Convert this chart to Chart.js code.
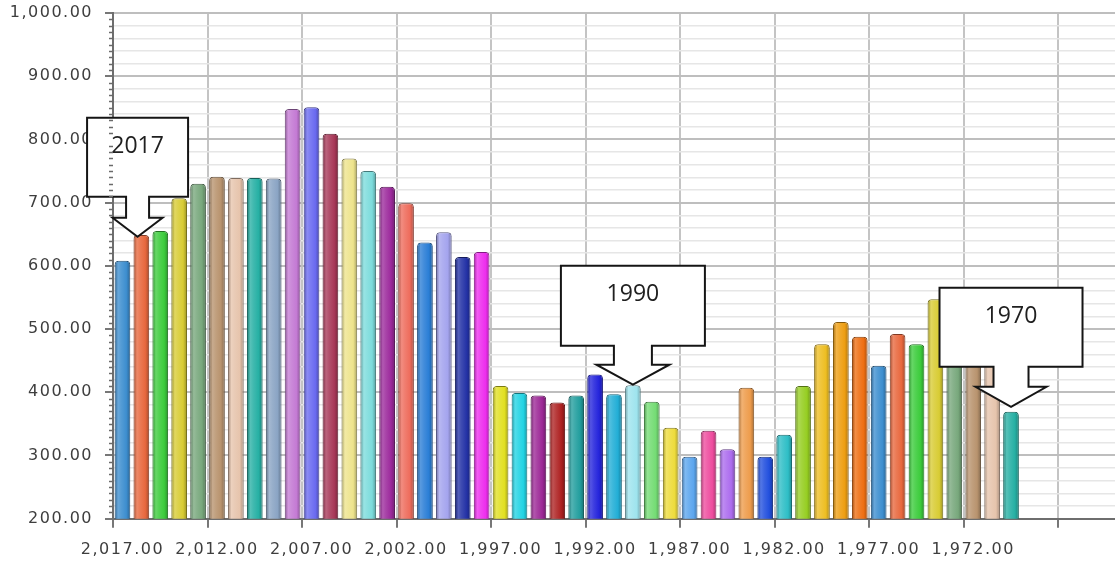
<!DOCTYPE html>
<html>
<head>
<meta charset="utf-8">
<title>Annual values 1970–2017</title>
<style>
  html, body { margin: 0; padding: 0; background: #ffffff; }
  #wrap { width: 1115px; height: 572px; position: relative; overflow: hidden; }
</style>
<script src="https://cdn.jsdelivr.net/npm/chart.js@4.4.1/dist/chart.umd.min.js"></script>
</head>
<body>
<div id="wrap"><canvas id="chart" width="1115" height="572"></canvas></div>
<script>
// ---- data -------------------------------------------------------------
const years = [
  2017, 2016, 2015, 2014, 2013, 2012, 2011, 2010, 2009, 2008,
  2007, 2006, 2005, 2004, 2003, 2002, 2001, 2000, 1999, 1998,
  1997, 1996, 1995, 1994, 1993, 1992, 1991, 1990, 1989, 1988,
  1987, 1986, 1985, 1984, 1983, 1982, 1981, 1980, 1979, 1978,
  1977, 1976, 1975, 1974, 1973, 1972, 1971, 1970
];
const values = [
  608, 649, 655, 707, 730, 741, 739, 739, 738, 848,
  851, 809, 770, 750, 725, 699, 637, 653, 614, 622,
  410, 399, 395, 384, 395, 428, 397, 411, 385, 344,
  298, 339, 310, 407, 298, 333, 410, 476, 511, 488,
  442, 492, 476, 547, 505, 470, 445, 369
];
// slots along the year axis (the axis runs on past the last bar)
const axisYears = [
  2017, 2016, 2015, 2014, 2013, 2012, 2011, 2010, 2009, 2008,
  2007, 2006, 2005, 2004, 2003, 2002, 2001, 2000, 1999, 1998,
  1997, 1996, 1995, 1994, 1993, 1992, 1991, 1990, 1989, 1988,
  1987, 1986, 1985, 1984, 1983, 1982, 1981, 1980, 1979, 1978,
  1977, 1976, 1975, 1974, 1973, 1972, 1971, 1970, 1969, 1968,
  1967, 1966, 1965
];
const gridYears = [2017, 2012, 2007, 2002, 1997, 1992, 1987, 1982, 1977, 1972, 1967];
const labeledYears = [2017, 2012, 2007, 2002, 1997, 1992, 1987, 1982, 1977, 1972];
// callouts: text, anchor year (fractional = between bars) and anchor value
const calloutTexts = ['2017', '1990', '1970'];
const calloutYears = [2016.2, 1990, 1970];
const calloutValues = [646, 412, 377];

// ---- styles -----------------------------------------------------------
const palette = [
  '#3d8ecf', '#e8683e', '#3ccc3c', '#d8cc34', '#78a87c', '#b8936e', '#e6c4ac', '#26b0a4',
  '#8aa4c4', '#c47ad4', '#6a6af0', '#a83858', '#eee48c', '#7cdcdc', '#9c2a9c', '#ee6c5c',
  '#2a7ed6', '#a4a4ee', '#2432a6', '#ee2eee', '#e2e022', '#22d4e4', '#9c2896', '#ae2222',
  '#229e9e', '#2424dc', '#22aed6', '#9ee4ee', '#74dc74', '#eedc3c', '#5ca6ee', '#ee4c9e',
  '#ac6cee', '#ee9c4c', '#2250de', '#2ebec6', '#96ce22', '#eebe22', '#ee9e12', '#ee6e12'
];
const calloutShapes = [
  { w: 101, h: 79, shaftHalf: 11.5, shaftLen: 21, headHalf: 25, headLen: 19 },
  { w: 144, h: 80, shaftHalf: 19, shaftLen: 19, headHalf: 36.5, headLen: 20 },
  { w: 143, h: 79, shaftHalf: 17.5, shaftLen: 20, headHalf: 35.5, headLen: 20 }
];

function hexToRgb(hex) {
  const n = parseInt(hex.slice(1), 16);
  return [(n >> 16) & 255, (n >> 8) & 255, n & 255];
}
function mix(hex, target, t) {
  const c = hexToRgb(hex);
  const r = c.map(v => Math.round(v + (target - v) * t));
  return `rgb(${r[0]},${r[1]},${r[2]})`;
}
const lighten = (hex, t) => mix(hex, 255, t);
const darken = (hex, t) => mix(hex, 0, t);

const fmt = v => Number(v).toLocaleString('en-US', { minimumFractionDigits: 2, maximumFractionDigits: 2 });
const indexOfYear = y => 2017 - y;
const BAR_FRACTION = 0.83;
const AXIS_FONT = { family: '"DejaVu Sans", sans-serif', size: 16 };
const AXIS_TEXT = '#3e3e3e';

// glossy, cylinder-like fill across each bar
function barFill(ctx) {
  const base = palette[ctx.dataIndex % palette.length];
  const chart = ctx.chart;
  const xs = chart.scales && chart.scales.x;
  if (!chart.chartArea || !xs) return base;
  const cx = xs.getPixelForValue(ctx.dataIndex);
  const slot = xs.getPixelForValue(1) - xs.getPixelForValue(0);
  const half = slot * BAR_FRACTION / 2;
  if (!isFinite(cx) || !isFinite(half) || half <= 0) return base;
  const g = chart.ctx.createLinearGradient(cx - half, 0, cx + half, 0);
  g.addColorStop(0, darken(base, 0.3));
  g.addColorStop(0.22, lighten(base, 0.22));
  g.addColorStop(0.42, lighten(base, 0.12));
  g.addColorStop(0.75, base);
  g.addColorStop(1, darken(base, 0.28));
  return g;
}

// spaced axis lettering
const spacing = {
  id: 'spacing',
  beforeUpdate(chart) { chart.ctx.letterSpacing = '1.5px'; },
  beforeDraw(chart) { chart.ctx.letterSpacing = '1.5px'; }
};

// small minor ticks along the value axis
const minorTicks = {
  id: 'minorTicks',
  afterDraw(chart) {
    const ys = chart.scales.y;
    const ctx = chart.ctx;
    const x0 = chart.chartArea.left;
    ctx.save();
    ctx.strokeStyle = '#6a6a6a';
    ctx.lineWidth = 1.5;
    for (let v = ys.min; v <= ys.max; v += 10) {
      if (v % 100 === 0) continue;
      const py = Math.round(ys.getPixelForValue(v)) + 0.5;
      ctx.beginPath();
      ctx.moveTo(x0 - 4, py);
      ctx.lineTo(x0, py);
      ctx.stroke();
    }
    ctx.restore();
  }
};

// down-arrow callouts naming a year
const callouts = {
  id: 'callouts',
  afterDatasetsDraw(chart) {
    const ctx = chart.ctx;
    const xs = chart.scales.x, ys = chart.scales.y;
    ctx.save();
    ctx.letterSpacing = '0px';
    calloutTexts.forEach((text, i) => {
      const s = calloutShapes[i];
      const tx = xs.getPixelForValue(indexOfYear(calloutYears[i]));
      const ty = ys.getPixelForValue(calloutValues[i]);
      const neck = ty - s.headLen;
      const boxBottom = neck - s.shaftLen;
      const boxTop = boxBottom - s.h;
      const l = tx - s.w / 2, r = tx + s.w / 2;
      ctx.beginPath();
      ctx.moveTo(l, boxTop);
      ctx.lineTo(r, boxTop);
      ctx.lineTo(r, boxBottom);
      ctx.lineTo(tx + s.shaftHalf, boxBottom);
      ctx.lineTo(tx + s.shaftHalf, neck);
      ctx.lineTo(tx + s.headHalf, neck);
      ctx.lineTo(tx, ty);
      ctx.lineTo(tx - s.headHalf, neck);
      ctx.lineTo(tx - s.shaftHalf, neck);
      ctx.lineTo(tx - s.shaftHalf, boxBottom);
      ctx.lineTo(l, boxBottom);
      ctx.closePath();
      ctx.fillStyle = '#ffffff';
      ctx.fill();
      ctx.lineWidth = 2;
      ctx.lineJoin = 'miter';
      ctx.strokeStyle = '#151515';
      ctx.stroke();
      ctx.fillStyle = '#202020';
      ctx.font = '23px "Open Sans", sans-serif';
      ctx.textAlign = 'center';
      ctx.textBaseline = 'middle';
      ctx.fillText(text, tx, boxTop + 29);
    });
    ctx.restore();
  }
};

new Chart(document.getElementById('chart'), {
  type: 'bar',
  data: {
    labels: axisYears.map(String),
    datasets: [{
      data: values,
      backgroundColor: barFill,
      borderColor: ctx => darken(palette[ctx.dataIndex % palette.length], 0.45),
      borderWidth: 1,
      borderSkipped: 'bottom',
      borderRadius: { topLeft: 4, topRight: 4, bottomLeft: 0, bottomRight: 0 },
      categoryPercentage: 1,
      barPercentage: BAR_FRACTION
    }]
  },
  options: {
    responsive: false,
    animation: false,
    devicePixelRatio: 1,
    layout: { padding: { top: 13, right: 0, bottom: 0, left: 0 } },
    plugins: {
      legend: { display: false },
      tooltip: { enabled: false },
      title: { display: false }
    },
    scales: {
      x: {
        type: 'category',
        offset: true,
        grid: {
          offset: true,
          color: c => (c.tick && gridYears.includes(Number(axisYears[c.index]))) ? '#c4c4c4' : 'rgba(0,0,0,0)',
          tickColor: c => (c.tick && gridYears.includes(Number(axisYears[c.index]))) ? '#4a4a4a' : 'rgba(0,0,0,0)',
          lineWidth: 2,
          tickWidth: 1.5,
          tickLength: 9,
          drawOnChartArea: true
        },
        border: { display: true, color: '#6e6e6e', width: 2 },
        ticks: {
          autoSkip: false,
          maxRotation: 0,
          minRotation: 0,
          padding: 13,
          color: AXIS_TEXT,
          font: AXIS_FONT,
          callback: function (val, idx) {
            const y = axisYears[idx];
            return labeledYears.includes(y) ? fmt(y) : '';
          }
        },
        afterFit: scale => {
          scale.height = 53.3;
          scale.paddingLeft = 0;
          scale.paddingRight = 0;
        }
      },
      y: {
        min: 200,
        max: 1000,
        grid: {
          color: c => (c.tick && c.tick.value % 100 === 0) ? '#bebebe' : '#e6e6e6',
          lineWidth: c => (c.tick && c.tick.value % 100 === 0) ? 2 : 1.5,
          tickColor: c => (c.tick && c.tick.value % 100 === 0) ? '#4a4a4a' : 'rgba(0,0,0,0)',
          tickLength: 8,
          tickWidth: 1.5
        },
        border: { display: true, color: '#6e6e6e', width: 2 },
        ticks: {
          stepSize: 20,
          autoSkip: false,
          padding: 12,
          color: AXIS_TEXT,
          font: AXIS_FONT,
          callback: v => (v % 100 === 0 ? fmt(v) : '')
        },
        afterFit: scale => {
          scale.width = 113;
          scale.paddingTop = 0;
          scale.paddingBottom = 0;
        }
      }
    }
  },
  plugins: [spacing, minorTicks, callouts]
});
</script>
</body>
</html>
